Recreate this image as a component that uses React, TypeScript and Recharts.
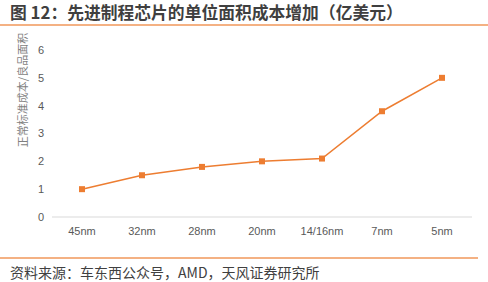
import React from "react";
import { LineChart, Line, XAxis, YAxis } from "recharts";

// 工艺节点与单位面积成本（亿美元）
const nodes = ["45nm", "32nm", "28nm", "20nm", "14/16nm", "7nm", "5nm"];
const costs = [1.0, 1.5, 1.8, 2.0, 2.1, 3.8, 5.0];
const yTicks = [0, 1, 2, 3, 4, 5, 6];

const data = nodes.map((node, i) => ({ node, cost: costs[i] }));

const ORANGE = "#ED7D31";
const CJK = '"Noto Sans CJK SC", "Noto Sans", sans-serif';
const LATIN = '"Liberation Sans", Arial, sans-serif';

function SquareDot(props: any) {
  const { cx, cy } = props;
  if (cx == null || cy == null) return null;
  return <rect x={cx - 3} y={cy - 3} width={6} height={6} fill={ORANGE} />;
}

function YLabel() {
  return (
    <text
      x={22}
      y={90}
      transform="rotate(-90 22 90)"
      textAnchor="middle"
      dominantBaseline="central"
      fill="#7f7f7f"
      fontSize={11}
      fontFamily={CJK}
    >
      正常标准成本/良品面积
    </text>
  );
}

export default function App() {
  return (
    <div
      style={{
        position: "absolute",
        left: 0,
        top: 0,
        width: 488,
        height: 282,
        background: "#fff",
        overflow: "hidden",
      }}
    >
      <div
        style={{
          position: "absolute",
          left: 10,
          top: 1,
          fontFamily: CJK,
          fontWeight: 700,
          fontSize: 16.8,
          color: "#3f3f3f",
          whiteSpace: "nowrap",
          lineHeight: "22px",
        }}
      >
        图 12：先进制程芯片的单位面积成本增加（亿美元）
      </div>
      <div
        style={{
          position: "absolute",
          left: 0,
          top: 24,
          width: 488,
          height: 2,
          background: "#F4B183",
        }}
      />

      <div style={{ position: "absolute", left: 0, top: 0 }}>
        <LineChart
          width={488}
          height={282}
          data={data}
          margin={{ top: 50, right: 16, bottom: 35, left: 22 }}
        >
          <XAxis
            dataKey="node"
            interval={0}
            height={30}
            padding={{ left: 30, right: 30 }}
            tickLine={false}
            tickMargin={4}
            axisLine={{ stroke: "#d9d9d9" }}
            tick={{ fill: "#595959", fontSize: 11, fontFamily: LATIN }}
          />
          <YAxis
            width={30}
            domain={[0, 6]}
            ticks={yTicks}
            axisLine={false}
            tickLine={false}
            tick={{ fill: "#595959", fontSize: 11, fontFamily: LATIN }}
          />
          <Line
            dataKey="cost"
            stroke={ORANGE}
            strokeWidth={1.5}
            dot={<SquareDot />}
            activeDot={false}
            isAnimationActive={false}
          />
          <YLabel />
        </LineChart>
      </div>

      <div
        style={{
          position: "absolute",
          left: 0,
          top: 257,
          width: 478,
          height: 2,
          background: "#F4B183",
        }}
      />
      <div
        style={{
          position: "absolute",
          left: 10,
          top: 263,
          fontFamily: CJK,
          fontSize: 14,
          color: "#404040",
          whiteSpace: "nowrap",
          lineHeight: "18px",
        }}
      >
        资料来源：车东西公众号，AMD，天风证券研究所
      </div>
    </div>
  );
}
